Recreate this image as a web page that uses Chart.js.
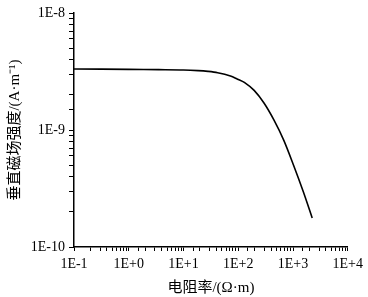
<!DOCTYPE html>
<html>
<head>
<meta charset="utf-8">
<script src="https://cdn.jsdelivr.net/npm/chart.js@4.4.1/dist/chart.umd.min.js"></script>
<style>
  html, body { margin: 0; padding: 0; background: #fff; }
  #wrap { width: 368px; height: 297px; }
</style>
</head>
<body>
<div id="wrap"><canvas id="myChart" width="368" height="297"></canvas></div>
<script>
 // resistivity (Ω·m) and vertical magnetic field (A·m^-1)
 const resistivity = [0.1, 1, 3.5, 10, 18.5, 28, 42, 72, 97, 129, 195, 295, 447, 676, 1023, 1548, 2240];
 const fieldStrength = [3.32e-9, 3.30e-9, 3.28e-9, 3.26e-9, 3.22e-9, 3.17e-9, 3.09e-9, 2.90e-9, 2.72e-9, 2.55e-9, 2.18e-9, 1.70e-9, 1.22e-9, 8.2e-10, 5.0e-10, 2.95e-10, 1.77e-10];
 const xTickLabels = ['1E-1', '1E+0', '1E+1', '1E+2', '1E+3', '1E+4'];
 const yTickLabels = ['1E-10', '1E-9', '1E-8'];

 const points = resistivity.map((x, i) => ({ x: x, y: fieldStrength[i] }));

 const serif = "'Liberation Serif', 'Noto Sans CJK SC', serif";

 function decadeLabel(value, labels, first) {
   const e = Math.log10(value);
   const r = Math.round(e);
   if (Math.abs(e - r) > 1e-6) return '';
   const idx = r - first;
   return labels[idx] !== undefined ? labels[idx] : '';
 }

 const ctx = document.getElementById('myChart').getContext('2d');
 const myChart = new Chart(ctx, {
   type: 'scatter',
   data: {
     datasets: [{
       data: points,
       showLine: true,
       borderColor: '#000',
       borderWidth: 1.6,
       pointRadius: 0,
       tension: 0.3
     }]
   },
   options: {
     responsive: false,
     animation: false,
     layout: { padding: { left: 6, right: 16, top: 13, bottom: 0 } },
     plugins: { legend: { display: false }, tooltip: { enabled: false } },
     scales: {
       x: {
         type: 'logarithmic',
         min: 0.1,
         max: 10000,
         afterFit: function(scale) { scale.height = 50; },
         border: { color: '#000', width: 1.5 },
         grid: { drawOnChartArea: false, drawTicks: true, tickLength: 4, color: '#000', tickColor: '#000', lineWidth: 1 },
         ticks: {
           autoSkip: false,
           maxRotation: 0,
           padding: 5,
           color: '#000',
           font: { family: serif, size: 14 },
           callback: function(v) { return decadeLabel(v, xTickLabels, -1); }
         },
         title: { display: true, text: '电阻率/(Ω·m)', color: '#000', font: { family: serif, size: 15 }, padding: { top: 0, bottom: 0 } }
       },
       y: {
         type: 'logarithmic',
         min: 1e-10,
         max: 1e-8,
         afterFit: function(scale) { scale.width = 68; },
         border: { color: '#000', width: 1.5 },
         grid: { drawOnChartArea: false, drawTicks: true, tickLength: 5, color: '#000', tickColor: '#000', lineWidth: 1 },
         ticks: {
           autoSkip: false,
           padding: 4,
           color: '#000',
           font: { family: serif, size: 14 },
           callback: function(v) { return decadeLabel(v, yTickLabels, -10); }
         },
         title: { display: true, text: '垂直磁场强度/(A·m⁻¹)', color: '#000', font: { family: serif, size: 15 }, padding: { top: 0, bottom: 0 } }
       }
     }
   }
 });
</script>
</body>
</html>
